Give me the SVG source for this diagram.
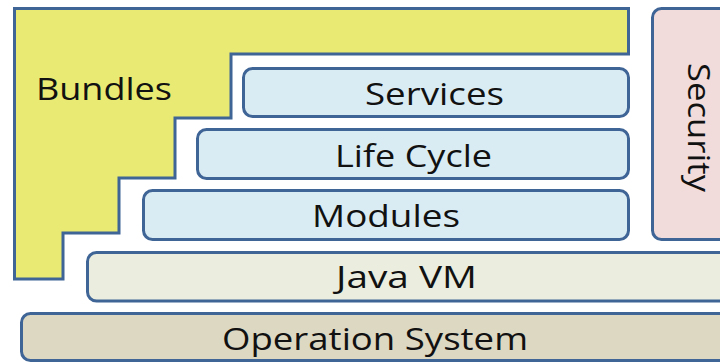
<svg xmlns="http://www.w3.org/2000/svg" width="720" height="362" viewBox="0 0 720 362">
<style>
.s{stroke:#3F6596;stroke-width:3;stroke-linejoin:miter}
.t{font-family:"Open Sans","Liberation Sans",sans-serif;font-size:31px;fill:#111;text-anchor:middle}
</style>
<rect width="720" height="362" fill="#fff"/>
<g id="bundles">
<polygon class="s" fill="#E9EA73" points="14.5,8.5 628.5,8.5 628.5,54 231,54 231,118 175,118 175,178 119,178 119,233 63,233 63,279 14.5,279"/>
<text class="t" x="104" y="100" textLength="136" lengthAdjust="spacingAndGlyphs">Bundles</text>
</g>
<g id="services">
<rect class="s" fill="#DAECF3" x="243.5" y="68.5" width="385" height="48" rx="9"/>
<text class="t" x="434.5" y="105" textLength="139" lengthAdjust="spacingAndGlyphs">Services</text>
</g>
<g id="lifecycle">
<rect class="s" fill="#DAECF3" x="197.5" y="129.5" width="431" height="49" rx="9"/>
<text class="t" x="413.5" y="167" textLength="157" lengthAdjust="spacingAndGlyphs">Life Cycle</text>
</g>
<g id="modules">
<rect class="s" fill="#DAECF3" x="143.5" y="190.5" width="485" height="49" rx="9"/>
<text class="t" x="386" y="227" textLength="148" lengthAdjust="spacingAndGlyphs">Modules</text>
</g>
<g id="javavm">
<rect class="s" fill="#EBEEDE" x="87.5" y="252.5" width="650" height="48.5" rx="9"/>
<text class="t" x="406.5" y="288" textLength="141" lengthAdjust="spacingAndGlyphs">Java VM</text>
</g>
<g id="os">
<rect class="s" fill="#DDD8C2" x="21.5" y="313.5" width="720" height="47" rx="9"/>
<text class="t" x="375" y="350" textLength="306" lengthAdjust="spacingAndGlyphs">Operation System</text>
</g>
<g id="security">
<rect class="s" fill="#F2DCDB" x="652.5" y="8.5" width="100" height="231" rx="9"/>
<text class="t" transform="translate(688,127.5) rotate(90)" textLength="129" lengthAdjust="spacingAndGlyphs">Security</text>
</g>
<g id="connectors"/>
</svg>
